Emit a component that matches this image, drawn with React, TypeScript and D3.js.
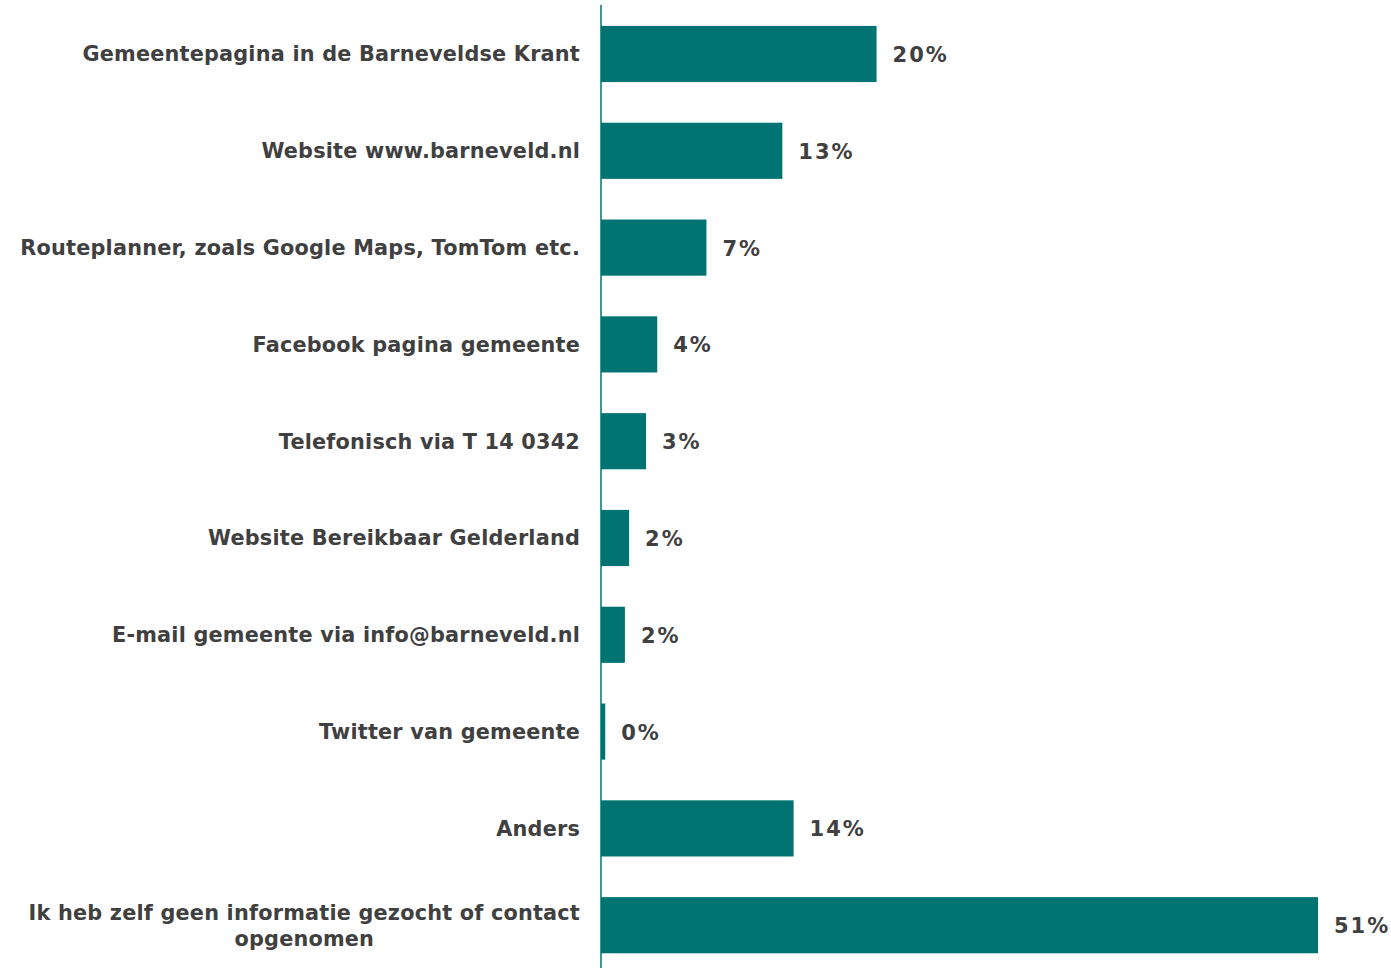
import React, { useEffect, useRef } from "react";
import * as d3 from "d3";

const categories: string[][] = [
  ["Gemeentepagina in de Barneveldse Krant"],
  ["Website www.barneveld.nl"],
  ["Routeplanner, zoals Google Maps, TomTom etc."],
  ["Facebook pagina gemeente"],
  ["Telefonisch via T 14 0342"],
  ["Website Bereikbaar Gelderland"],
  ["E-mail gemeente via info@barneveld.nl"],
  ["Twitter van gemeente"],
  ["Anders"],
  ["Ik heb zelf geen informatie gezocht of contact", "opgenomen"],
];
const values: number[] = [19.6, 12.9, 7.5, 4.0, 3.2, 2.0, 1.7, 0.3, 13.7, 51.0];
const valueLabels: string[] = ["20%", "13%", "7%", "4%", "3%", "2%", "2%", "0%", "14%", "51%"];

const W = 1391;
const H = 968;
const AXIS_X = 601;
const TEAL = "#017373";
const TEXT = "#404040";
const FONT = "'DejaVu Sans', Verdana, sans-serif";
const FS = 20.8;

export default function App() {
  const ref = useRef<SVGSVGElement>(null);
  useEffect(() => {
    const svg = d3.select(ref.current);
    svg.selectAll("*").remove();
    const idx = categories.map((_, i) => String(i));
    const y = d3.scaleBand<string>().domain(idx).range([5.6, 973.6]).paddingInner(0.42).paddingOuter(0.21);
    const x = d3.scaleLinear().domain([0, 51]).range([AXIS_X, 1318]);

    const g = svg.append("g");
    g.selectAll("rect.bar")
      .data(values)
      .join("rect")
      .attr("class", "bar")
      .attr("x", x(0))
      .attr("y", (_, i) => y(String(i))!)
      .attr("width", (d) => x(d) - x(0))
      .attr("height", y.bandwidth())
      .attr("fill", TEAL);

    g.selectAll("text.val")
      .data(values)
      .join("text")
      .attr("class", "val")
      .attr("x", (d) => x(d) + 16)
      .attr("y", (_, i) => y(String(i))! + y.bandwidth() / 2)
      .attr("dy", "0.38em")
      .attr("font-family", FONT)
      .attr("font-weight", "bold")
      .attr("font-size", 21)
      .attr("letter-spacing", 2)
      .attr("fill", TEXT)
      .text((_, i) => valueLabels[i]);

    const labelRight = 580;
    const lineH = 26;
    categories.forEach((lines, i) => {
      const cy = y(String(i))! + y.bandwidth() / 2;
      const t = g.append("text")
        .attr("font-family", FONT)
        .attr("font-weight", "bold")
        .attr("font-size", FS)
        .attr("letter-spacing", 0.2)
        .attr("fill", TEXT);
      if (lines.length === 1) {
        t.attr("x", labelRight).attr("y", cy).attr("dy", "0.36em").attr("text-anchor", "end").text(lines[0]);
      } else {
        const spans = lines.map((l, j) =>
          t.append("tspan").attr("y", cy + (j - (lines.length - 1) / 2) * lineH).attr("dy", "0.36em").text(l)
        );
        const widths = spans.map((s) => (s.node() as SVGTextContentElement).getComputedTextLength());
        const maxW = Math.max(...widths);
        const center = labelRight - maxW / 2;
        t.attr("text-anchor", "middle");
        spans.forEach((s) => s.attr("x", center));
      }
    });

    g.append("line")
      .attr("x1", AXIS_X)
      .attr("x2", AXIS_X)
      .attr("y1", 5)
      .attr("y2", H)
      .attr("stroke", TEAL)
      .attr("stroke-width", 1.5);
  }, []);

  return (
    <svg ref={ref} width={W} height={H} style={{ position: "absolute", left: 0, top: 0, background: "#fff" }} />
  );
}
